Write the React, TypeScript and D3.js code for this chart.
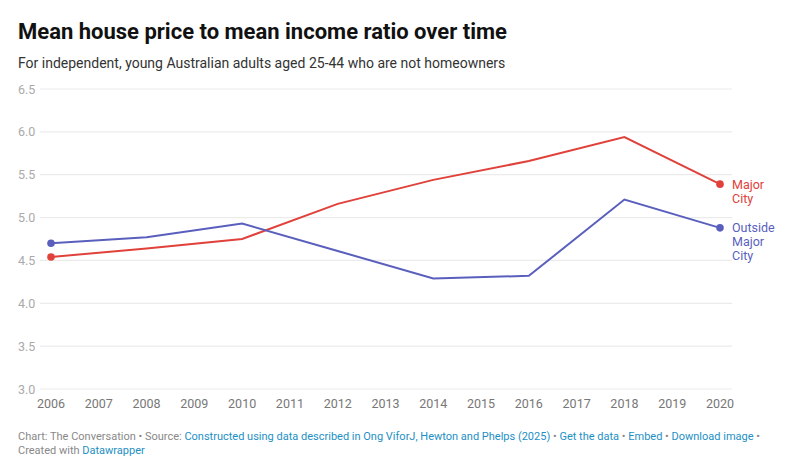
import React from "react";
import * as d3 from "d3";

const years = [2006, 2008, 2010, 2012, 2014, 2016, 2018, 2020];
const majorCity = [4.54, 4.64, 4.75, 5.16, 5.44, 5.66, 5.94, 5.39];
const outsideMajorCity = [4.70, 4.77, 4.93, 4.61, 4.29, 4.32, 5.21, 4.88];
const yTicks = [3.0, 3.5, 4.0, 4.5, 5.0, 5.5, 6.0, 6.5];
const xTicks = d3.range(2006, 2021);

const W = 795;
const H = 473;
const RED = "#e0413a";
const BLUE = "#5a5fbd";
const LINK = "#1d8fc4";
const FONT = "Roboto, 'Noto Sans', sans-serif";

export default function App() {
  const x = d3.scaleLinear().domain([2006, 2020]).range([51, 720]);
  const y = d3.scaleLinear().domain([3.0, 6.5]).range([389, 89]);
  const line = d3
    .line<number>()
    .x((_, i) => x(years[i]))
    .y((d) => y(d));

  const series = [
    { values: majorCity, color: RED, label: ["Major", "City"] },
    { values: outsideMajorCity, color: BLUE, label: ["Outside", "Major", "City"] },
  ];

  return (
    <svg
      width={W}
      height={H}
      style={{ position: "absolute", left: 0, top: 0, background: "#fff" }}
      fontFamily={FONT}
    >
      <text x={18} y={39} fontSize={22} fontWeight={700} fill="#111">
        Mean house price to mean income ratio over time
      </text>
      <text x={18} y={68} fontSize={14} fill="#333">
        For independent, young Australian adults aged 25-44 who are not homeowners
      </text>

      {yTicks.map((t) => (
        <g key={t}>
          <line x1={40} x2={732} y1={y(t)} y2={y(t)} stroke="#ebebeb" strokeWidth={1.2} />
          <text x={18} y={y(t) + 4.5} fontSize={12.5} fill="#aaaaaa">
            {t.toFixed(1)}
          </text>
        </g>
      ))}

      {xTicks.map((t) => (
        <text key={t} x={x(t)} y={408} fontSize={12.5} fill="#777" textAnchor="middle">
          {t}
        </text>
      ))}

      {series.map((s, si) => {
        const last = s.values[s.values.length - 1];
        return (
          <g key={si}>
            <path d={line(s.values) || ""} fill="none" stroke={s.color} strokeWidth={2} />
            <circle cx={x(years[0])} cy={y(s.values[0])} r={3.8} fill={s.color} />
            <circle cx={x(years[years.length - 1])} cy={y(last)} r={3.8} fill={s.color} />
            {s.label.map((l, li) => (
              <text
                key={li}
                x={732}
                y={y(last) + 4.5 + li * 14}
                fontSize={12.5}
                fill={s.color}
              >
                {l}
              </text>
            ))}
          </g>
        );
      })}

      <text x={18} y={440} fontSize={11} fill="#888">
        Chart: The Conversation • Source:{" "}
        <tspan fill={LINK}>Constructed using data described in Ong ViforJ, Hewton and Phelps (2025)</tspan>
        {" • "}
        <tspan fill={LINK}>Get the data</tspan>
        {" • "}
        <tspan fill={LINK}>Embed</tspan>
        {"  • "}
        <tspan fill={LINK}>Download image</tspan>
        {" •"}
      </text>
      <text x={18} y={454} fontSize={11} fill="#888">
        Created with <tspan fill={LINK}>Datawrapper</tspan>
      </text>
    </svg>
  );
}
